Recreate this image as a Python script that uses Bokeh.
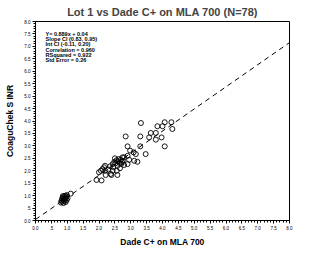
from bokeh.plotting import figure
from bokeh.models import FixedTicker, Range1d, ColumnDataSource
from bokeh.core.properties import value
from bokeh.embed import file_html
from bokeh.resources import INLINE

title_text = "Lot 1 vs Dade C+ on MLA 700 (N=78)"
x_label = "Dade C+ on MLA 700"
y_label = "CoaguChek S INR"

stats_lines = [
    "Y= 0.889x + 0.04",
    "Slope CI (0.83, 0.95)",
    "Int CI (-0.11, 0.20)",
    "Correlation = 0.960",
    "RSquared = 0.922",
    "Std Error = 0.26",
]
slope = 0.889
intercept = 0.04

tick_values = [0.0, 0.5, 1.0, 1.5, 2.0, 2.5, 3.0, 3.5, 4.0, 4.5, 5.0, 5.5, 6.0, 6.5, 7.0, 7.5, 8.0]
tick_labels = ["0.0", ".5", "1.0", "1.5", "2.0", "2.5", "3.0", "3.5", "4.0", "4.5",
               "5.0", "5.5", "6.0", "6.5", "7.0", "7.5", "8.0"]

dade_x = [0.80, 0.82, 0.84, 0.85, 0.87, 0.88, 0.89, 0.90, 0.91, 0.92, 0.93, 0.94, 0.95,
          0.96, 0.98, 0.99, 1.01, 0.86, 1.11,
          1.92, 2.08, 2.00, 2.06, 2.11, 2.16, 2.19, 2.21, 2.37,
          2.35, 2.39, 2.43, 2.43, 2.48, 2.52, 2.55, 2.56, 2.58, 2.60, 2.62, 2.65, 2.68,
          2.70, 2.74, 2.75, 2.79, 2.79, 2.84, 2.90, 2.90, 2.90, 2.95, 2.98, 3.09, 3.11,
          3.16, 3.21, 3.30, 3.30, 3.32, 3.47, 3.58, 3.63, 3.79, 3.79, 3.84, 3.97, 4.00,
          4.07, 4.07, 4.28, 4.31,
          2.30, 2.45, 2.50, 2.58, 2.66, 2.20, 2.72]
coaguchek_y = [0.72, 0.80, 0.88, 0.76, 0.92, 0.70, 0.84, 0.98, 0.78, 0.90, 0.86, 1.00, 0.74,
               0.94, 0.82, 1.02, 0.90, 0.98, 1.08,
               1.63, 1.61, 1.94, 2.00, 2.07, 2.14, 2.20, 1.83, 1.87,
               2.18, 1.83, 2.00, 2.27, 2.35, 2.30, 2.42, 2.00, 1.83, 2.38, 2.47, 2.32, 2.44,
               2.28, 2.54, 2.40, 2.23, 2.54, 3.38, 2.27, 2.60, 2.98, 2.44, 2.81, 2.74, 2.40,
               2.67, 2.36, 2.98, 3.38, 3.92, 2.67, 3.34, 3.52, 3.52, 3.25, 3.79, 3.34, 3.79,
               2.98, 3.95, 3.95, 3.68,
               2.05, 2.15, 2.50, 2.20, 2.10, 2.00, 2.35]

FONT = "Liberation Sans Narrow, Liberation Sans, sans-serif"

p = figure(frame_width=254, frame_height=199, x_range=Range1d(0, 8), y_range=Range1d(0, 8),
           output_backend="svg", toolbar_location=None,
           min_border_left=35, min_border_right=28, min_border_top=20, min_border_bottom=22)
p.background_fill_color = "white"
p.border_fill_color = "white"
p.outline_line_color = "black"
p.outline_line_width = 1
p.grid.visible = False

p.title.text = title_text
p.title.align = "center"
p.title.text_font = FONT
p.title.text_font_size = "11px"
p.title.text_font_style = "bold"
p.title.standoff = 7
p.title.offset = 0

minor = [i / 10 for i in range(81)]
for ax in (p.xaxis[0], p.yaxis[0]):
    ax.ticker = FixedTicker(ticks=tick_values, minor_ticks=minor)
    ax.major_label_overrides = {v: t for v, t in zip(tick_values, tick_labels)}
    ax.major_label_text_font = FONT
    ax.major_label_text_font_size = "4.5px"
    ax.major_label_text_color = "black"
    ax.major_label_standoff = 2
    ax.major_tick_out = 3
    ax.major_tick_in = 0
    ax.minor_tick_out = 2
    ax.minor_tick_in = 0
    ax.axis_line_color = "black"
    ax.major_tick_line_color = "black"
    ax.minor_tick_line_color = "black"
    ax.axis_label_text_font = FONT
    ax.axis_label_text_font_size = "8.5px"
    ax.axis_label_text_font_style = "bold"
    ax.axis_label_text_color = "black"
p.yaxis[0].major_label_orientation = "horizontal"
p.xaxis[0].axis_label = x_label
p.xaxis[0].axis_label_standoff = 4
p.yaxis[0].axis_label = y_label
p.yaxis[0].axis_label_standoff = 6

# regression line
xs_line = [0.0, 8.0]
ys_line = [slope * v + intercept for v in xs_line]
p.line(xs_line, ys_line, line_color="black", line_width=1, line_dash="5 4")

p.scatter(dade_x, coaguchek_y, marker="circle", size=5, fill_color=None,
          line_color="black", line_width=0.9)

stats_src = ColumnDataSource(dict(
    x=[0.315] * len(stats_lines),
    y=[7.5 - i * 0.21 for i in range(len(stats_lines))],
    text=stats_lines,
))
p.text(x="x", y="y", text="text", source=stats_src, text_font=value(FONT),
       text_font_size="5.5px", text_font_style="bold", text_baseline="middle",
       text_align="left", text_color="black")

open("out.html", "w").write(file_html(p, INLINE))
